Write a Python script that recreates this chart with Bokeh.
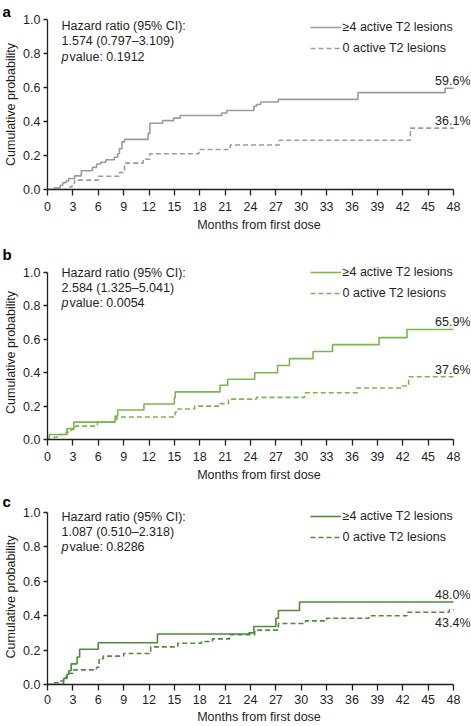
from bokeh.plotting import figure
from bokeh.models import Range1d, FixedTicker, PrintfTickFormatter, Label, Legend, LegendItem
from bokeh.layouts import column
from bokeh.embed import file_html
from bokeh.resources import INLINE

# ---------------- data ----------------
x_ticks = list(range(0, 49, 3))
y_ticks = [0.0, 0.2, 0.4, 0.6, 0.8, 1.0]

a_hi_t = [0, 0.8, 1.5, 1.8, 2.2, 2.5, 3.2, 4.0, 5.3, 5.8, 6.3, 6.9, 7.9, 8.3, 8.5, 8.8, 9.1, 11.9, 12.1, 13.6,
          14.9, 15.7, 20.6, 21.2, 24.4, 24.7, 25.2, 27.3, 36.7, 47.0, 48]
a_hi_p = [0, 0.01, 0.025, 0.04, 0.05, 0.065, 0.08, 0.11, 0.13, 0.15, 0.16, 0.175, 0.19, 0.21, 0.24, 0.28, 0.295,
          0.33, 0.39, 0.405, 0.42, 0.435, 0.45, 0.465, 0.49, 0.50, 0.515, 0.53, 0.57, 0.596, 0.596]
a_zero_t = [0, 2.6, 2.9, 3.2, 6.0, 8.5, 9.1, 11.3, 12.1, 17.9, 21.6, 27.4, 42.9, 48]
a_zero_p = [0, 0.015, 0.035, 0.055, 0.078, 0.10, 0.155, 0.178, 0.21, 0.235, 0.262, 0.29, 0.361, 0.361]

b_hi_t = [0, 0.2, 2.3, 3.1, 8.0, 8.3, 11.4, 15.0, 15.1, 20.4, 21.3, 24.5, 27.2, 28.6, 31.4, 33.7, 39.2, 42.5, 48]
b_hi_p = [0, 0.03, 0.065, 0.104, 0.14, 0.177, 0.213, 0.25, 0.285, 0.325, 0.361, 0.40, 0.443, 0.484, 0.527,
          0.568, 0.61, 0.659, 0.659]
b_zero_t = [0, 0.8, 1.4, 2.2, 2.8, 3.3, 5.9, 7.9, 8.2, 15.1, 15.4, 17.4, 20.3, 21.4, 24.7, 30.4, 36.6, 41.8, 42.7, 48]
b_zero_p = [0, 0.015, 0.03, 0.045, 0.06, 0.08, 0.105, 0.12, 0.135, 0.165, 0.183, 0.2, 0.215, 0.242, 0.252, 0.28,
            0.308, 0.32, 0.376, 0.376]

c_hi_t = [0, 1.9, 2.3, 2.5, 2.8, 3.5, 3.8, 6.0, 13.0, 23.8, 24.4, 27.0, 27.3, 29.8, 48]
c_hi_p = [0, 0.035, 0.06, 0.08, 0.12, 0.16, 0.205, 0.243, 0.294, 0.30, 0.337, 0.385, 0.43, 0.48, 0.48]
c_zero_t = [0, 0.7, 1.3, 1.9, 2.3, 2.6, 3.0, 5.8, 6.1, 6.6, 9.0, 12.2, 15.4, 18.2, 19.5, 21.5, 24.5, 27.3, 30.5,
            33.0, 38.0, 42.5, 47.5, 48]
c_zero_p = [0, 0.01, 0.02, 0.04, 0.05, 0.065, 0.085, 0.10, 0.15, 0.165, 0.18, 0.219, 0.24, 0.25, 0.265, 0.29,
            0.316, 0.355, 0.37, 0.385, 0.40, 0.42, 0.434, 0.434]

series_labels = ["\u22654 active T2 lesions", "0 active T2 lesions"]
hr_a = ["Hazard ratio (95% CI):", "1.574 (0.797\u20133.109)", "0.1912"]
hr_b = ["Hazard ratio (95% CI):", "2.584 (1.325\u20135.041)", "0.0054"]
hr_c = ["Hazard ratio (95% CI):", "1.087 (0.510\u20132.318)", "0.8286"]
end_a = ["59.6%", "36.1%"]
end_b = ["65.9%", "37.6%"]
end_c = ["48.0%", "43.4%"]

FONT = "Liberation Sans"
INK = "#231f20"
FS = "12.5px"
W = 471
LEFT = 47
XEND = 48 * (W - 1 - LEFT) / (453 - LEFT)   # frame reaches x=470, 48 months at x=453


def panel(letter, color, hi_t, hi_p, zero_t, zero_p, hr, ends, zero_below,
          fig_h, top, frame_h, pad, title_standoff, hr_rows, legend_y,
          tick_standoff=6, label_standoff=4):
    bottom = fig_h - top - frame_h
    yend = 1.0 + pad / (frame_h - pad)
    p = figure(width=W, height=fig_h, x_range=Range1d(0, XEND), y_range=Range1d(0, yend),
               output_backend="svg", toolbar_location=None,
               min_border_left=LEFT, min_border_right=1, min_border_top=top, min_border_bottom=bottom)
    p.outline_line_color = None
    p.grid.visible = False
    p.background_fill_color = None
    p.border_fill_color = None

    p.title.text = letter
    p.title.align = "left"
    p.title.offset = -45
    p.title.standoff = title_standoff
    p.title.text_font = FONT
    p.title.text_font_size = "15px"
    p.title.text_font_style = "bold"
    p.title.text_color = "#000000"

    r0 = p.step(zero_t, zero_p, mode="after", line_color=color, line_width=1.6, line_dash="5 3")
    r1 = p.step(hi_t, hi_p, mode="after", line_color=color, line_width=1.6)

    for ax in (p.xaxis[0], p.yaxis[0]):
        ax.axis_line_color = INK
        ax.axis_line_width = 1.3
        ax.major_tick_line_color = INK
        ax.major_tick_line_width = 1.3
        ax.major_tick_in = 0
        ax.minor_tick_line_color = None
        ax.major_label_text_font = FONT
        ax.major_label_text_font_size = FS
        ax.major_label_text_color = INK
        ax.axis_label_text_font = FONT
        ax.axis_label_text_font_size = FS
        ax.axis_label_text_font_style = "normal"
        ax.axis_label_text_color = INK
    p.xaxis.ticker = FixedTicker(ticks=x_ticks)
    p.xaxis.bounds = (0, 48)
    p.xaxis.major_tick_out = 6
    p.xaxis.major_label_standoff = tick_standoff
    p.xaxis.axis_label = "Months from first dose"
    p.xaxis.axis_label_standoff = label_standoff
    p.yaxis.ticker = FixedTicker(ticks=y_ticks)
    p.yaxis.formatter = PrintfTickFormatter(format="%.1f")
    p.yaxis.bounds = (0, 1)
    p.yaxis.major_tick_out = 4
    p.yaxis.major_label_standoff = 3
    p.yaxis.axis_label = "Cumulative probability"
    p.yaxis.axis_label_standoff = 2

    legend = Legend(items=[LegendItem(label=series_labels[0], renderers=[r1]),
                           LegendItem(label=series_labels[1], renderers=[r0])],
                    location=(262.6, legend_y), border_line_color=None, background_fill_alpha=0,
                    label_text_font=FONT, label_text_font_size=FS, label_text_color=INK,
                    glyph_width=31, glyph_height=16, label_height=16, label_standoff=2,
                    spacing=5, padding=0, margin=0)
    p.add_layout(legend)

    kw = dict(x_units="screen", y_units="screen", text_font=FONT, text_font_size=FS,
              text_color=INK, text_baseline="middle")
    p.add_layout(Label(x=14, y=hr_rows[0], text=hr[0], **kw))
    p.add_layout(Label(x=14, y=hr_rows[1], text=hr[1], **kw))
    p.add_layout(Label(x=14, y=hr_rows[2], text="p", text_font_style="italic", **kw))
    p.add_layout(Label(x=22, y=hr_rows[2], text="value: " + hr[2], **kw))

    kw2 = dict(text_font=FONT, text_font_size=FS, text_color=INK, text_align="right",
               text_baseline="middle", x_offset=17)
    p.add_layout(Label(x=48, y=hi_p[-1], text=ends[0], y_offset=7, **kw2))
    p.add_layout(Label(x=48, y=zero_p[-1], text=ends[1], y_offset=(-13 if zero_below else 7), **kw2))
    return p


pa = panel("a", "#9b9b9b", a_hi_t, a_hi_p, a_zero_t, a_zero_p, hr_a, end_a, False,
           fig_h=236, top=18, frame_h=171, pad=0, title_standoff=0,
           hr_rows=[164, 149, 133], legend_y=133)
pb = panel("b", "#79b74a", b_hi_t, b_hi_p, b_zero_t, b_zero_p, hr_b, end_b, False,
           fig_h=250, top=29, frame_h=174, pad=7, title_standoff=5,
           hr_rows=[167, 152, 137], legend_y=138)
pc = panel("c", "#4e8c3c", c_hi_t, c_hi_p, c_zero_t, c_zero_p, hr_c, end_c, True,
           fig_h=240, top=23, frame_h=175, pad=3, title_standoff=0,
           hr_rows=[168, 153, 138], legend_y=139, tick_standoff=4, label_standoff=3)

layout = column(pa, pb, pc, spacing=0)
open("out.html", "w").write(file_html(layout, INLINE))
